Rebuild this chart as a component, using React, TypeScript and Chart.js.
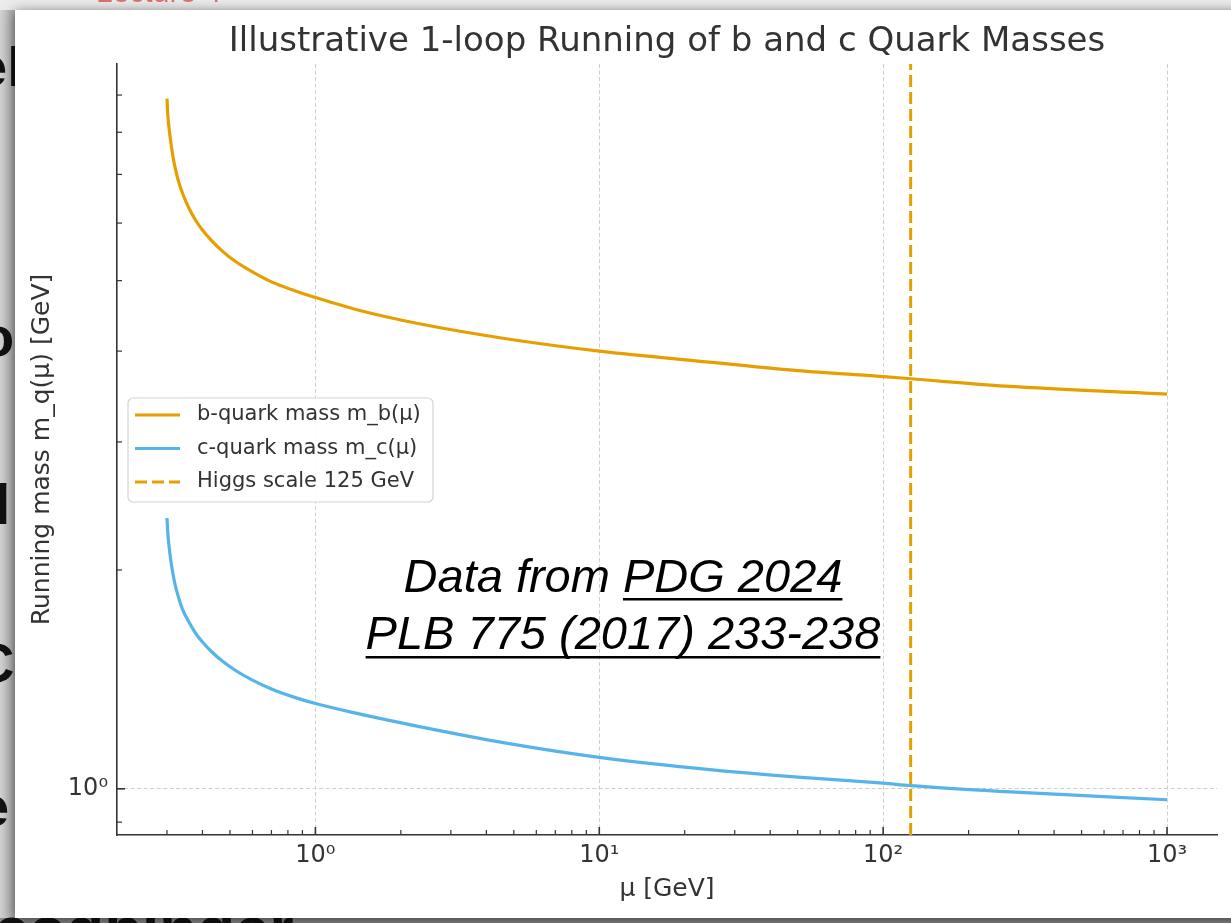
import React, { useEffect, useRef } from 'react';
import { Chart, registerables } from 'chart.js';

Chart.register(...registerables);

// ---------- data ----------
const MU_GEV = [0.3, 0.302, 0.305, 0.31, 0.315, 0.32, 0.33, 0.34, 0.36, 0.38, 0.4, 0.43, 0.47, 0.52, 0.6, 0.7, 0.85, 1.0, 1.4, 2.3, 4.7, 10, 25, 50, 100, 125, 270, 1000];
const B_MASS = [8.9, 8.45, 8.11, 7.71, 7.4, 7.17, 6.83, 6.6, 6.27, 6.04, 5.87, 5.68, 5.49, 5.32, 5.14, 4.98, 4.84, 4.74, 4.56, 4.365, 4.16, 4.0, 3.86, 3.76, 3.69, 3.665, 3.58, 3.49];
const C_MASS = [2.358, 2.248, 2.158, 2.051, 1.975, 1.913, 1.83, 1.767, 1.691, 1.633, 1.592, 1.545, 1.499, 1.457, 1.411, 1.372, 1.335, 1.31, 1.27, 1.219, 1.156, 1.105, 1.062, 1.038, 1.018, 1.01, 0.991, 0.966];
const HIGGS_MU = 125;

const X_TICKS = [0.3, 0.4, 0.5, 0.6, 0.7, 0.8, 0.9, 1, 2, 3, 4, 5, 6, 7, 8, 9, 10, 20, 30, 40, 50, 60, 70, 80, 90, 100, 200, 300, 400, 500, 600, 700, 800, 900, 1000];
const Y_TICKS = [0.9, 1, 2, 3, 4, 5, 6, 7, 8, 9];
const MAJOR_TICK_LABELS: Record<number, string> = { 1: '10⁰', 10: '10¹', 100: '10²', 1000: '10³' };
const X_MIN = 0.2;
const X_MAX = 1500;
const Y_MIN = 0.864;
const Y_MAX = 9.93;

const TITLE = 'Illustrative 1-loop Running of b and c Quark Masses';
const X_LABEL = 'μ [GeV]';
const Y_LABEL = 'Running mass m_q(μ) [GeV]';
const SERIES_LABELS = ['b-quark mass m_b(μ)', 'c-quark mass m_c(μ)', 'Higgs scale 125 GeV'];
const NOTE_LINE1_PLAIN = 'Data from ';
const NOTE_LINE1_LINK = 'PDG 2024';
const NOTE_LINE2_LINK = 'PLB 775 (2017) 233-238';

// ---------- style ----------
const W = 1231;
const H = 923;
const FONT = '"DejaVu Sans", sans-serif';
const TEXT = '#333333';
const ORANGE = '#E69F00';
const BLUE = '#56B4E9';

const isMajor = (v: number) => MAJOR_TICK_LABELS[v] !== undefined;

const decorPlugin = {
  id: 'decor',
  beforeDraw(chart: any) {
    const { ctx } = chart;
    ctx.save();
    ctx.fillStyle = '#ececec';
    ctx.fillRect(0, 0, W, H);
    const g = ctx.createLinearGradient(0, 0, 15, 0);
    g.addColorStop(0, '#d2d2d2');
    g.addColorStop(1, '#a9a9a9');
    ctx.fillStyle = g;
    ctx.fillRect(0, 10, 15, H - 10);
    ctx.fillStyle = '#8a8a8a';
    ctx.fillRect(0, 918, W, 5);
    // slide fragments behind the figure
    ctx.fillStyle = '#111';
    ctx.font = 'bold 56px "Liberation Sans"';
    ctx.textBaseline = 'alphabetic';
    ctx.fillText('el', -24, 86);
    ctx.fillText('o', -20, 356);
    ctx.fillText('q', -24, 512);
    ctx.fillText('C', -26, 682);
    ctx.fillText('e', -22, 826);
    ctx.font = 'bold 62px "Liberation Sans"';
    ctx.fillText('codbinder', -6, 950);
    ctx.fillStyle = 'rgba(215,85,75,0.8)';
    ctx.font = '30px "Liberation Sans"';
    ctx.fillText('Lecture 4 ·', 96, 2);
    // white panel with a drop shadow
    ctx.shadowColor = 'rgba(0,0,0,0.55)';
    ctx.shadowBlur = 12;
    ctx.shadowOffsetY = 2;
    ctx.fillStyle = '#ffffff';
    ctx.fillRect(15, 10, W + 40, 908);
    ctx.restore();
  },
  afterDraw(chart: any) {
    const { ctx, chartArea, scales } = chart;
    const xs = scales.x;
    const ys = scales.y;
    ctx.save();
    // inward tick marks
    ctx.strokeStyle = TEXT;
    xs.ticks.forEach((t: any) => {
      const p = xs.getPixelForValue(t.value);
      const maj = isMajor(t.value);
      ctx.lineWidth = maj ? 1.6 : 1.2;
      ctx.beginPath();
      ctx.moveTo(p, chartArea.bottom);
      ctx.lineTo(p, chartArea.bottom - (maj ? 8 : 5));
      ctx.stroke();
    });
    ys.ticks.forEach((t: any) => {
      const p = ys.getPixelForValue(t.value);
      const maj = isMajor(t.value);
      ctx.lineWidth = maj ? 1.6 : 1.2;
      ctx.beginPath();
      ctx.moveTo(chartArea.left, p);
      ctx.lineTo(chartArea.left + (maj ? 8 : 5), p);
      ctx.stroke();
    });

    // legend (matplotlib-like, centre left)
    const lx = 128, ly = 398, lw = 305, lh = 104, r = 5;
    ctx.beginPath();
    ctx.moveTo(lx + r, ly);
    ctx.arcTo(lx + lw, ly, lx + lw, ly + lh, r);
    ctx.arcTo(lx + lw, ly + lh, lx, ly + lh, r);
    ctx.arcTo(lx, ly + lh, lx, ly, r);
    ctx.arcTo(lx, ly, lx + lw, ly, r);
    ctx.closePath();
    ctx.fillStyle = 'rgba(255,255,255,0.9)';
    ctx.fill();
    ctx.strokeStyle = '#d4d4d4';
    ctx.lineWidth = 1.2;
    ctx.stroke();
    chart.data.datasets.forEach((ds: any, i: number) => {
      const y = 415 + i * 33.5;
      ctx.strokeStyle = ds.borderColor;
      ctx.lineWidth = ds.borderWidth;
      ctx.setLineDash(ds.borderDash || []);
      ctx.beginPath();
      ctx.moveTo(135, y);
      ctx.lineTo(180, y);
      ctx.stroke();
      ctx.setLineDash([]);
      ctx.fillStyle = TEXT;
      ctx.font = `21px ${FONT}`;
      ctx.textBaseline = 'middle';
      ctx.textAlign = 'left';
      ctx.fillText(ds.label, 197, y);
    });

    // source note
    ctx.fillStyle = '#000';
    ctx.font = 'italic 47px "Liberation Sans"';
    ctx.textBaseline = 'alphabetic';
    ctx.textAlign = 'left';
    const cx = 623;
    const full1 = NOTE_LINE1_PLAIN + NOTE_LINE1_LINK;
    const w1 = ctx.measureText(full1).width;
    const x1 = cx - w1 / 2;
    const b1 = 592;
    ctx.fillText(full1, x1, b1);
    const u1 = x1 + ctx.measureText(NOTE_LINE1_PLAIN).width;
    ctx.fillRect(u1, b1 + 6, x1 + w1 - u1, 2.5);
    const w2 = ctx.measureText(NOTE_LINE2_LINK).width;
    const x2 = cx - w2 / 2;
    const b2 = 649;
    ctx.fillText(NOTE_LINE2_LINK, x2, b2);
    ctx.fillRect(x2, b2 + 7, w2, 2.5);
    ctx.restore();
  },
};

export default function App() {
  const ref = useRef<HTMLCanvasElement | null>(null);

  useEffect(() => {
    const canvas = ref.current;
    if (!canvas) return;
    const pts = (ys: number[]) => MU_GEV.map((m, i) => ({ x: m, y: ys[i] }));
    const chart = new Chart(canvas, {
      type: 'line',
      data: {
        datasets: [
          {
            label: SERIES_LABELS[0],
            data: pts(B_MASS),
            borderColor: ORANGE,
            backgroundColor: ORANGE,
            borderWidth: 3.2,
            pointRadius: 0,
            cubicInterpolationMode: 'monotone',
          },
          {
            label: SERIES_LABELS[1],
            data: pts(C_MASS),
            borderColor: BLUE,
            backgroundColor: BLUE,
            borderWidth: 3.2,
            pointRadius: 0,
            cubicInterpolationMode: 'monotone',
          },
          {
            label: SERIES_LABELS[2],
            data: [
              { x: HIGGS_MU, y: Y_MIN },
              { x: HIGGS_MU, y: Y_MAX },
            ],
            borderColor: ORANGE,
            backgroundColor: ORANGE,
            borderWidth: 3,
            borderDash: [12, 5],
            pointRadius: 0,
          },
        ],
      },
      options: {
        animation: false,
        responsive: false,
        maintainAspectRatio: false,
        events: [],
        layout: { padding: { left: 15, right: 14, top: 10, bottom: 5 } },
        plugins: {
          legend: { display: false },
          tooltip: { enabled: false },
          title: {
            display: true,
            fullSize: false,
            text: TITLE,
            color: TEXT,
            font: { family: FONT, size: 34, weight: 'normal', lineHeight: 1.2 },
            padding: { top: 11.6, bottom: 1.6 },
          },
        },
        scales: {
          x: {
            type: 'logarithmic',
            min: X_MIN,
            max: X_MAX,
            afterBuildTicks: (s: any) => {
              s.ticks = X_TICKS.map((v) => ({ value: v, major: isMajor(v) }));
            },
            afterFit: (s: any) => {
              s.height = 83;
              s.paddingLeft = 0;
              s.paddingRight = 0;
            },
            ticks: {
              autoSkip: false,
              maxRotation: 0,
              minRotation: 0,
              padding: 6,
              color: TEXT,
              font: { family: FONT, size: 24 },
              callback: (v: any) => MAJOR_TICK_LABELS[Number(v)] ?? '',
            },
            grid: {
              drawTicks: false,
              lineWidth: 1,
              color: (c: any) => (c.tick && isMajor(c.tick.value) ? '#cfcfcf' : 'rgba(0,0,0,0)'),
            },
            border: { display: true, color: TEXT, width: 1.6, dash: [4, 2.5] },
            title: {
              display: true,
              text: X_LABEL,
              color: TEXT,
              font: { family: FONT, size: 25, lineHeight: 1.2 },
              padding: { top: 0, bottom: 13.4 },
            },
          },
          y: {
            type: 'logarithmic',
            min: Y_MIN,
            max: Y_MAX,
            afterBuildTicks: (s: any) => {
              s.ticks = Y_TICKS.map((v) => ({ value: v, major: isMajor(v) }));
            },
            afterFit: (s: any) => {
              s.width = 102;
              s.paddingTop = 0;
              s.paddingBottom = 0;
            },
            ticks: {
              autoSkip: false,
              padding: 9,
              color: TEXT,
              font: { family: FONT, size: 24 },
              callback: (v: any) => MAJOR_TICK_LABELS[Number(v)] ?? '',
            },
            grid: {
              drawTicks: false,
              lineWidth: 1,
              color: (c: any) => (c.tick && isMajor(c.tick.value) ? '#cfcfcf' : 'rgba(0,0,0,0)'),
            },
            border: { display: true, color: TEXT, width: 1.6, dash: [4, 2.5] },
            title: {
              display: true,
              text: Y_LABEL,
              color: TEXT,
              font: { family: FONT, size: 25, lineHeight: 1.2 },
              padding: { top: 12.6, bottom: 0 },
            },
          },
        },
      } as any,
      plugins: [decorPlugin],
    });
    return () => chart.destroy();
  }, []);

  return (
    <div style={{ position: 'absolute', left: 0, top: 0, width: W, height: H, overflow: 'hidden' }}>
      <canvas ref={ref} width={W} height={H} style={{ display: 'block', width: W, height: H }} />
    </div>
  );
}
